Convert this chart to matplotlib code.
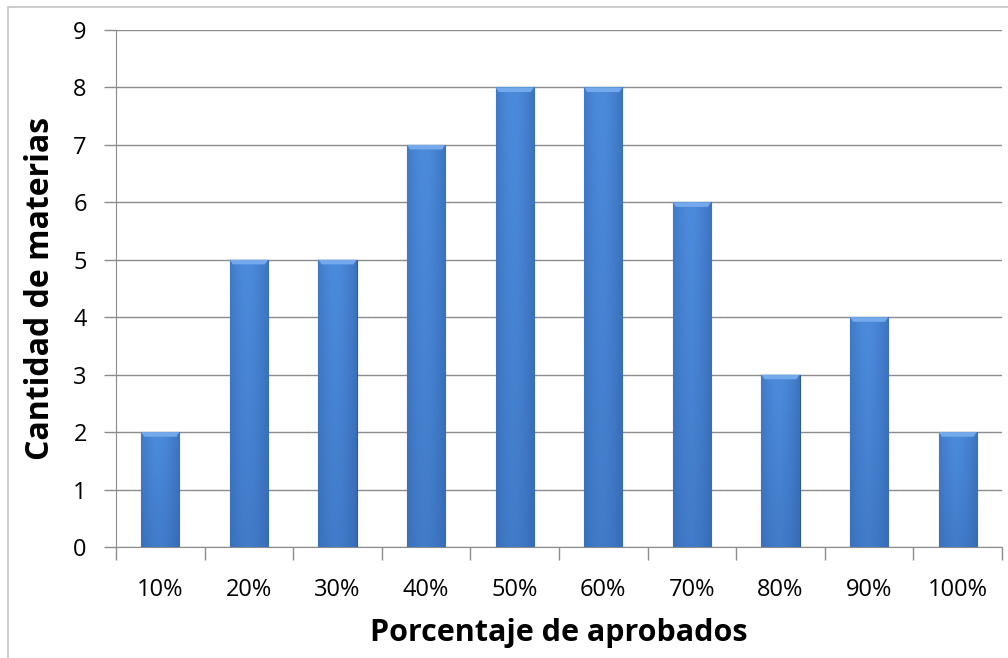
import numpy as np
import matplotlib.pyplot as plt
from matplotlib.patches import Rectangle, Polygon

# datos: porcentaje de aprobados vs cantidad de materias
categorias = ['10%', '20%', '30%', '40%', '50%', '60%', '70%', '80%', '90%', '100%']
materias = [2, 5, 5, 7, 8, 8, 6, 3, 4, 2]

plt.rcParams['font.family'] = ['Open Sans', 'DejaVu Sans']

fig = plt.figure(figsize=(10.08, 6.58), dpi=100)
ax = fig.add_axes([116/1008, 1 - 547/658, 886/1008, 517/658])

# marco exterior del grafico
fig.patches.append(Rectangle((8/1008, -0.1), 1.2, 1 - 7/658 + 0.1, transform=fig.transFigure,
                             fill=False, edgecolor='#c4c4c4', lw=1.2, zorder=0))

x = np.arange(len(categorias))
ancho = 0.43
barras = ax.bar(x, materias, width=ancho, color='#3f7ccc', edgecolor='#2a5a98', lw=0.8, zorder=3)

# degradado tipo bisel para cada barra
h = np.linspace(0, 1, 64)
perfil_h = 1 - 0.55 * np.abs(h - 0.45) ** 1.6 * 2.2
v = np.linspace(0, 1, 64)[:, None]
oscuro = np.array([0x2a, 0x58, 0x9e]) / 255
claro = np.array([0x4c, 0x8b, 0xdc]) / 255
for b in barras:
    x0, y0 = b.get_x(), b.get_y()
    w, alto = b.get_width(), b.get_height()
    mezcla = np.clip(perfil_h[None, :] * (0.7 + 0.3 * v), 0, 1)
    img = oscuro + (claro - oscuro) * mezcla[..., None]
    im = ax.imshow(img, extent=(x0, x0 + w, y0, y0 + alto), origin='lower',
                   aspect='auto', zorder=3.5, interpolation='bilinear')
    im.set_clip_path(b)
    # bisel superior claro
    tapa = 0.08
    dx = w * 0.08
    ax.add_patch(Polygon([(x0, alto), (x0 + w, alto), (x0 + w - dx, alto - tapa), (x0 + dx, alto - tapa)],
                         closed=True, facecolor='#74aaec', lw=0, zorder=3.6))

ax.set_xlim(-0.5, len(categorias) - 0.5)
ax.set_ylim(0, 9)
ax.set_yticks(range(0, 10))
ax.set_xticks(x)
ax.set_xticklabels(categorias)
ax.set_xticks(np.arange(-0.5, len(categorias)), minor=True)

ax.grid(axis='y', color='#8c8c8c', lw=1, zorder=0)
ax.set_axisbelow(True)

for lado in ['top', 'right']:
    ax.spines[lado].set_visible(False)
ax.spines['left'].set_color('#8c8c8c')
ax.spines['bottom'].set_color('#8c8c8c')

ax.tick_params(axis='y', length=9, width=1, color='#8c8c8c', labelsize=17, pad=12)
ax.tick_params(axis='x', which='major', length=0, labelsize=17, pad=22)
ax.tick_params(axis='x', which='minor', length=9, width=1, color='#8c8c8c')

ax.set_xlabel('Porcentaje de aprobados', fontsize=22, fontweight='bold', labelpad=12)
ax.set_ylabel('Cantidad de materias', fontsize=23, fontweight='bold', labelpad=12)

fig.savefig('out.png', dpi=100)
